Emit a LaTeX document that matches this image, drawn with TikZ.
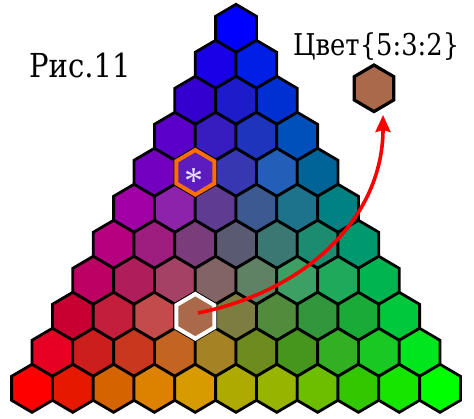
\documentclass[tikz,border=0pt]{standalone}
\usepackage{graphicx}
\usepackage{fontspec}
\setmainfont{Liberation Serif}
\newfontfamily\capserif{DejaVu Serif}
\usetikzlibrary{arrows.meta}

% colour of each cell: c<row>-<position>, mixing red:green:blue = (row-pos):pos:(10-row)
\definecolor{c0-0}{RGB}{0,0,255}
\definecolor{c1-0}{RGB}{25,0,230}\definecolor{c1-1}{RGB}{0,30,230}
\definecolor{c2-0}{RGB}{52,0,208}\definecolor{c2-1}{RGB}{28,28,202}\definecolor{c2-2}{RGB}{0,48,210}
\definecolor{c3-0}{RGB}{90,0,200}\definecolor{c3-1}{RGB}{55,28,192}\definecolor{c3-2}{RGB}{30,52,188}\definecolor{c3-3}{RGB}{0,80,188}
\definecolor{c4-0}{RGB}{115,0,190}\definecolor{c4-1}{RGB}{92,28,192}\definecolor{c4-2}{RGB}{55,55,178}\definecolor{c4-3}{RGB}{35,95,185}\definecolor{c4-4}{RGB}{0,100,152}
\definecolor{c5-0}{RGB}{160,0,165}\definecolor{c5-1}{RGB}{140,35,170}\definecolor{c5-2}{RGB}{95,60,145}\definecolor{c5-3}{RGB}{60,90,145}\definecolor{c5-4}{RGB}{30,115,140}\definecolor{c5-5}{RGB}{0,130,130}
\definecolor{c6-0}{RGB}{183,0,128}\definecolor{c6-1}{RGB}{158,30,128}\definecolor{c6-2}{RGB}{123,60,123}\definecolor{c6-3}{RGB}{90,90,115}\definecolor{c6-4}{RGB}{60,120,115}\definecolor{c6-5}{RGB}{28,140,112}\definecolor{c6-6}{RGB}{0,152,110}
\definecolor{c7-0}{RGB}{188,0,100}\definecolor{c7-1}{RGB}{175,30,90}\definecolor{c7-2}{RGB}{165,65,100}\definecolor{c7-3}{RGB}{130,100,100}\definecolor{c7-4}{RGB}{95,130,100}\definecolor{c7-5}{RGB}{60,160,100}\definecolor{c7-6}{RGB}{30,170,90}\definecolor{c7-7}{RGB}{0,180,80}
\definecolor{c8-0}{RGB}{200,0,50}\definecolor{c8-1}{RGB}{195,30,60}\definecolor{c8-2}{RGB}{195,75,75}\definecolor{c8-3}{RGB}{170,105,75}\definecolor{c8-4}{RGB}{125,125,65}\definecolor{c8-5}{RGB}{80,140,60}\definecolor{c8-6}{RGB}{50,150,60}\definecolor{c8-7}{RGB}{25,170,55}\definecolor{c8-8}{RGB}{0,200,60}
\definecolor{c9-0}{RGB}{230,0,35}\definecolor{c9-1}{RGB}{205,30,30}\definecolor{c9-2}{RGB}{200,55,30}\definecolor{c9-3}{RGB}{195,100,35}\definecolor{c9-4}{RGB}{165,130,35}\definecolor{c9-5}{RGB}{110,140,30}\definecolor{c9-6}{RGB}{70,150,30}\definecolor{c9-7}{RGB}{50,175,35}\definecolor{c9-8}{RGB}{25,200,35}\definecolor{c9-9}{RGB}{0,230,30}
\definecolor{c10-0}{RGB}{255,0,0}\definecolor{c10-1}{RGB}{230,25,0}\definecolor{c10-2}{RGB}{213,100,0}\definecolor{c10-3}{RGB}{220,130,0}\definecolor{c10-4}{RGB}{215,155,0}\definecolor{c10-5}{RGB}{175,170,0}\definecolor{c10-6}{RGB}{150,180,0}\definecolor{c10-7}{RGB}{110,190,0}\definecolor{c10-8}{RGB}{50,200,0}\definecolor{c10-9}{RGB}{20,230,0}\definecolor{c10-10}{RGB}{0,255,0}
\definecolor{markorange}{RGB}{255,110,0}
\definecolor{starlilac}{RGB}{235,225,255}
\definecolor{arrowred}{RGB}{250,0,0}

\begin{document}
\begin{tikzpicture}[x=1pt,y=-1pt,
  hexcell/.pic={\path[pic actions] (0,-24) -- (20.4,-12) -- (20.4,12) -- (0,24)
                 -- (-20.4,12) -- (-20.4,-12) -- cycle;},
  cell/.style={draw=black,line width=2.8pt,line join=miter},
  ring/.style={line width=4pt,line join=miter,scale=0.93},
  caption/.style={font=\capserif\fontsize{30}{40}\selectfont,inner sep=0pt,anchor=base west},
  link/.style={draw=arrowred,line width=3.6pt,-{Stealth[length=17pt,width=15pt,inset=2pt]}}]
\useasboundingbox (0,0) rectangle (474,418);

% triangle of cells: row i has i+1 cells
\foreach \i in {0,...,10}{
  \foreach \j in {0,...,\i}{
    \pgfmathsetmacro\cx{236+(\j-\i/2)*40.8}
    \pgfmathsetmacro\cy{28.3+36*\i}
    \pic[cell,fill=c\i-\j] at (\cx,\cy) {hexcell};
  }
}

% highlighted cells
\coordinate (star) at (195.3,172.3);
\coordinate (src) at (195.3,316.3);
\pic[ring,draw=markorange] at (star) {hexcell};
\pic[ring,draw=white] at (src) {hexcell};
\node[text=starlilac,font=\fontsize{38}{40}\selectfont,inner sep=0pt] (ast) at (193.5,181) {*};

% sample cell with its ratio
\coordinate (sample) at (374,88.3);
\pic[cell,line width=3.2pt,fill=c8-3,scale=0.97] at (sample) {hexcell};
\coordinate (tip) at (383,115);

\node[caption,font=\capserif\fontsize{33}{40}\selectfont] (fig) at (29,77) {\scalebox{0.88}[1]{Рис.11}};
\node[caption] (ratio) at (293,55) {\scalebox{0.86}[1]{Цвет\{5:3:2\}}};

\coordinate (start) at (198,313);
\draw[link] (start) .. controls (310,290) and (383,215) .. (tip);
\end{tikzpicture}
\end{document}
